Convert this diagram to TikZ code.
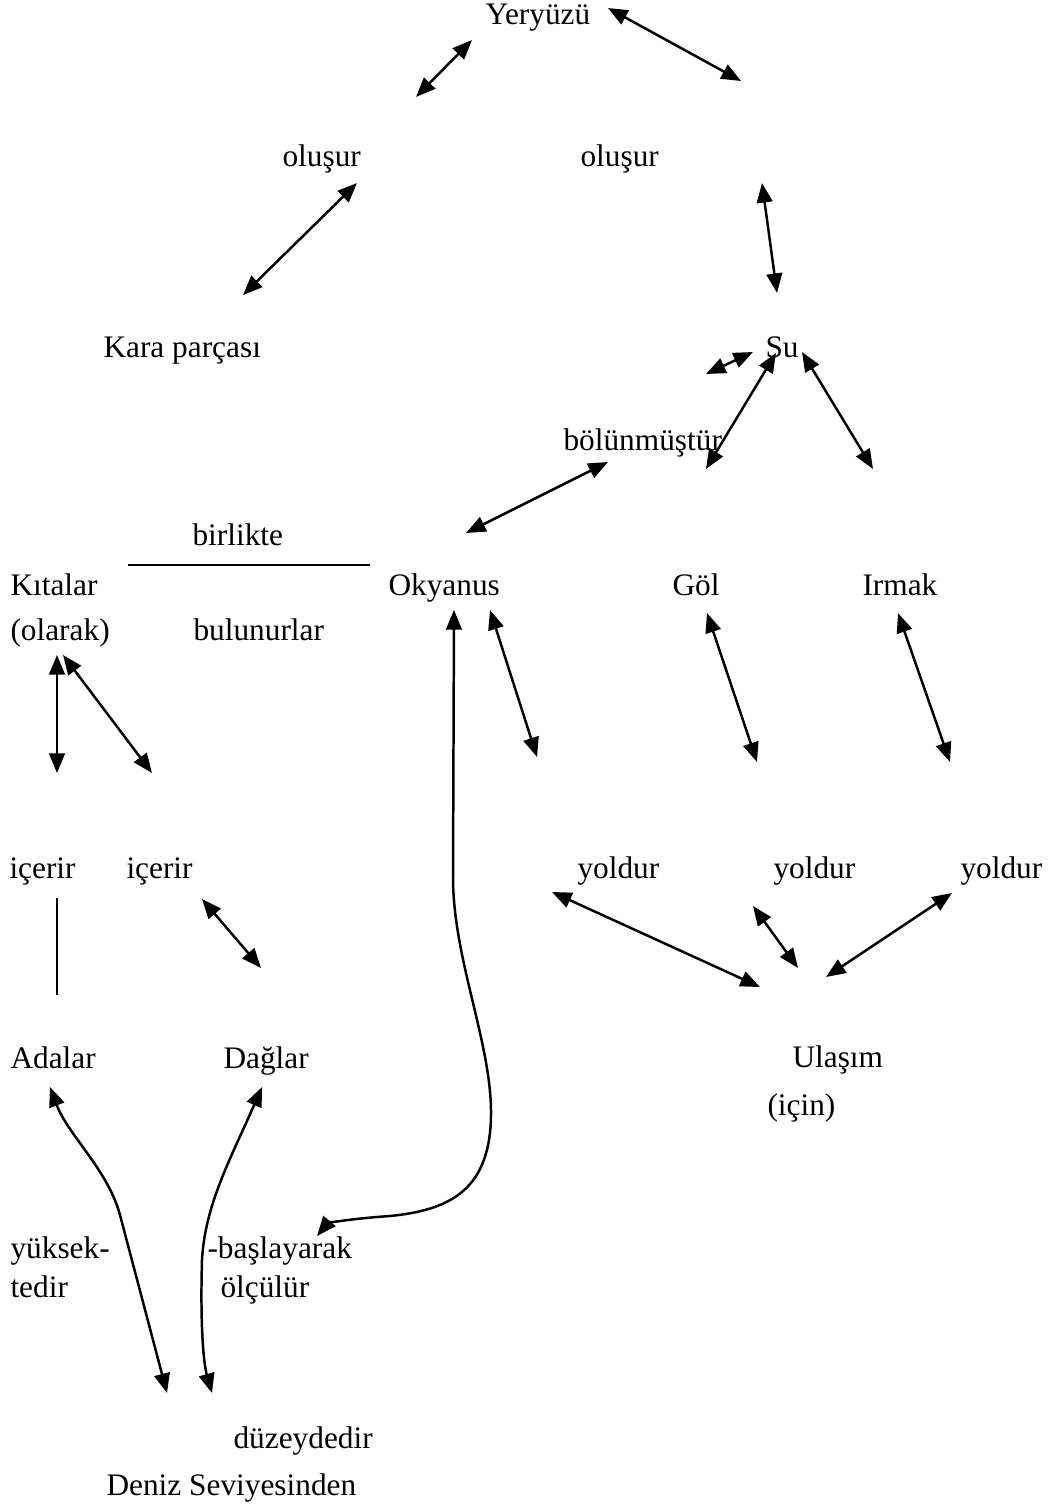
\documentclass[tikz,border=0pt]{standalone}
\usepackage{fontspec}
\setmainfont{Liberation Serif}
\usetikzlibrary{arrows.meta}
\begin{document}
\begin{tikzpicture}[x=0.383pt,y=-0.383pt,
  lbl/.style={anchor=base west,inner sep=0pt,font=\fontsize{12pt}{14pt}\selectfont},
  conn/.style={line width=0.95pt,{Triangle[length=7.5pt,width=6pt]}-{Triangle[length=7.5pt,width=6pt]}},
  plain/.style={line width=0.8pt}]
\useasboundingbox (0,0) rectangle (1047,1508);
% texts
\node[lbl] (yer) at (485,24) {Yeryüzü};
\node[lbl] (olus1) at (282,166) {oluşur};
\node[lbl] (olus2) at (580,166) {oluşur};
\node[lbl] (kara) at (103,357) {Kara parçası};
\node[lbl] (su) at (765,357) {Su};
\node[lbl] (bol) at (563,450) {bölünmüştür};
\node[lbl] (birl) at (192,545) {birlikte};
\node[lbl] (kit) at (10,595) {Kıtalar};
\node[lbl] (oky) at (388,595) {Okyanus};
\node[lbl] (gol) at (672,595) {Göl};
\node[lbl] (irm) at (862,595) {Irmak};
\node[lbl] (olar) at (10,640) {(olarak)};
\node[lbl] (bul) at (193,640) {bulunurlar};
\node[lbl] (ice1) at (9,878) {içerir};
\node[lbl] (ice2) at (126,878) {içerir};
\node[lbl] (yol1) at (577,878) {yoldur};
\node[lbl] (yol2) at (773,878) {yoldur};
\node[lbl] (yol3) at (960,878) {yoldur};
\node[lbl] (ada) at (10,1068) {Adalar};
\node[lbl] (dag) at (223,1068) {Dağlar};
\node[lbl] (ula) at (792,1067) {Ulaşım};
\node[lbl] (icin) at (767,1115) {(için)};
\node[lbl] (yuk) at (10,1258) {yüksek-};
\node[lbl] (bas) at (207,1258) {-başlayarak};
\node[lbl] (ted) at (10,1297) {tedir};
\node[lbl] (olc) at (220,1297) {ölçülür};
\node[lbl] (duz) at (233,1448) {düzeydedir};
\node[lbl] (den) at (106,1495) {Deniz Seviyesinden};
% connector end points
\coordinate (a1) at (472,40);  \coordinate (b1) at (416,97);
\coordinate (a2) at (608,8);   \coordinate (b2) at (741,81);
\coordinate (a3) at (357,183); \coordinate (b3) at (243,295);
\coordinate (a4) at (762,183); \coordinate (b4) at (777,293);
\coordinate (a5) at (753,352); \coordinate (b5) at (706,374);
\coordinate (a6) at (776,353); \coordinate (b6) at (706,469);
\coordinate (a7) at (802,352); \coordinate (b7) at (873,469);
\coordinate (a8) at (608,462); \coordinate (b8) at (466,533);
\coordinate (a9) at (57,655);  \coordinate (b9) at (57,773);
\coordinate (a10) at (63,655); \coordinate (b10) at (152,773);
\coordinate (a11) at (490,610); \coordinate (b11) at (537,757);
\coordinate (a12) at (707,613); \coordinate (b12) at (757,762);
\coordinate (a13) at (898,613); \coordinate (b13) at (950,762);
\coordinate (a14) at (202,899); \coordinate (b14) at (261,968);
\coordinate (a15) at (552,892); \coordinate (b15) at (760,987);
\coordinate (a16) at (753,906); \coordinate (b16) at (798,968);
\coordinate (a17) at (952,893); \coordinate (b17) at (826,977);
\coordinate (okyT) at (454,610); \coordinate (basT) at (317,1236);
\coordinate (adaT) at (50,1087); \coordinate (adaB) at (167,1393);
\coordinate (dagT) at (262,1087); \coordinate (dagB) at (212,1393);
% straight connectors
\foreach \i in {1,...,17} {\draw[conn] (a\i) -- (b\i);}
% plain lines
\draw[plain] (128,565) -- (370,565);
\draw[plain] (57,898) -- (57,995);
% curved connectors
\draw[conn] (okyT) -- (453,880) .. controls (454,960) and (490,1040) .. (491,1110)
  .. controls (492,1190) and (450,1210) .. (390,1216)
  .. controls (345,1219) and (327,1224) .. (basT);
\draw[conn] (adaT) .. controls (68,1135) and (108,1170) .. (120,1215) -- (adaB);
\draw[conn] (dagT) .. controls (230,1160) and (205,1205) .. (202,1260)
  .. controls (200,1330) and (204,1365) .. (dagB);
\end{tikzpicture}
\end{document}
